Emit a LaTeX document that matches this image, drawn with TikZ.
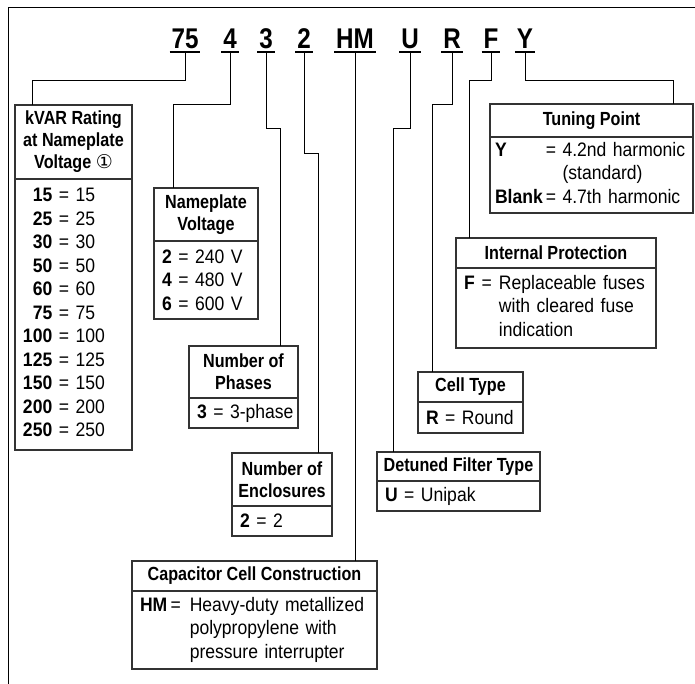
\documentclass[tikz,border=0pt]{standalone}
\usepackage{fontspec}
\setmainfont{Liberation Sans}[FakeStretch=0.9]
\newfontfamily\boldc{Liberation Sans}[FakeStretch=0.85]
\newfontfamily\symf{DejaVu Sans}
\newcommand\cb[1]{\textbf{#1}}
\begin{document}
\begin{tikzpicture}[x=1pt,y=-1pt,
  code/.style={anchor=base, inner xsep=2pt, inner ysep=0pt, outer sep=0pt,
    font=\boldc\bfseries\fontsize{28.5}{30}\selectfont},
  uline/.style={line width=1.6pt},
  conn/.style={line width=1pt},
  boxtitle/.style={draw=black!80, line width=1.1pt, anchor=north west, inner sep=0pt, outer sep=0pt,
    align=center, font=\boldc\bfseries\fontsize{19}{22}\selectfont},
  boxbody/.style={draw=black!80, line width=1.1pt, anchor=north west, inner xsep=8pt, inner ysep=0pt,
    outer sep=0pt, align=left, font=\fontsize{19.5}{23.5}\selectfont}
]
\useasboundingbox (0,0) rectangle (695,683);
\clip (0,0) rectangle (695,683);
% outer frame
\draw[line width=1pt] (8.5,690) -- (8.5,7.5) -- (700,7.5);

% code letters
\node[code] (c75) at (185,48) {75};
\node[code] (c4)  at (230,48) {4};
\node[code] (c3)  at (266,48) {3};
\node[code] (c2)  at (304,48) {2};
\node[code] (cHM) at (355,48) {HM};
\node[code] (cU)  at (410,48) {U};
\node[code] (cR)  at (452,48) {R};
\node[code] (cF)  at (491,48) {F};
\node[code] (cY)  at (525,48) {Y};
\foreach \c in {c75,c4,c3,c2,cHM,cU,cR,cF,cY}
  \draw[uline] ([yshift=-4pt]\c.base west) -- ([yshift=-4pt]\c.base east);

% boxes
\node[boxtitle, minimum width=117pt, minimum height=74pt] (kT) at (15,105)
  {kVAR Rating\\at Nameplate\\Voltage {\mdseries\symf\fontsize{19}{20}\selectfont ①}};
\node[boxbody, text width=101pt, minimum height=271pt] (kB) at (15,179)
  {\begin{tabular}{@{}r@{ = }l@{}}
   \cb{15} & 15\\ \cb{25} & 25\\ \cb{30} & 30\\ \cb{50} & 50\\ \cb{60} & 60\\
   \cb{75} & 75\\ \cb{100} & 100\\ \cb{125} & 125\\ \cb{150} & 150\\
   \cb{200} & 200\\ \cb{250} & 250
   \end{tabular}};

\node[boxtitle, minimum width=104pt, minimum height=53pt] (nvT) at (154,188)
  {Nameplate\\Voltage};
\node[boxbody, text width=88pt, minimum height=78pt] (nvB) at (154,241)
  {\cb{2} = 240 V\\ \cb{4} = 480 V\\ \cb{6} = 600 V};

\node[boxtitle, minimum width=109pt, minimum height=52pt] (phT) at (189,346)
  {Number of\\Phases};
\node[boxbody, text width=93pt, minimum height=30pt] (phB) at (189,398)
  {\mbox{\cb{3} = 3-phase}};

\node[boxtitle, minimum width=100pt, minimum height=53pt] (enT) at (232,453)
  {Number of\\Enclosures};
\node[boxbody, text width=84pt, minimum height=30pt] (enB) at (232,506)
  {\mbox{\cb{2} = 2}};

\node[boxtitle, minimum width=245pt, minimum height=30pt] (cpT) at (132,561)
  {Capacitor Cell Construction};
\node[boxbody, text width=229pt, minimum height=78pt] (cpB) at (132,591)
  {\begin{tabular}{@{}l@{\hspace{9pt}}l@{}}
   \cb{HM}\,= & Heavy-duty metallized\\
    & polypropylene with\\
    & pressure interrupter
   \end{tabular}};

\node[boxtitle, minimum width=163pt, minimum height=29pt] (dtT) at (377,452)
  {Detuned Filter Type};
\node[boxbody, text width=147pt, minimum height=30pt] (dtB) at (377,481)
  {\mbox{\cb{U} = Unipak}};

\node[boxtitle, minimum width=105pt, minimum height=30pt] (ctT) at (418,372)
  {Cell Type};
\node[boxbody, text width=89pt, minimum height=31pt] (ctB) at (418,402)
  {\mbox{\cb{R} = Round}};

\node[boxtitle, minimum width=200pt, minimum height=30pt] (ipT) at (456,238)
  {Internal Protection};
\node[boxbody, text width=184pt, minimum height=80pt] (ipB) at (456,268)
  {\begin{tabular}{@{}l@{\hspace{7pt}}l@{\hspace{7pt}}l@{}}
   \cb{F} & = & Replaceable fuses\\
    & & with cleared fuse\\
    & & indication
   \end{tabular}};

\node[boxtitle, minimum width=203pt, minimum height=33pt] (tpT) at (490,104)
  {Tuning Point};
\node[boxbody, inner xsep=5pt, text width=193pt, minimum height=76pt] (tpB) at (490,137)
  {\begin{tabular}{@{}l@{\hspace{3pt}}l@{}}
   \cb{Y} & = 4.2nd harmonic\\
    & \phantom{= }(standard)\\
   \cb{Blank} & = 4.7th harmonic
   \end{tabular}};

% connectors
\draw[conn] ([yshift=-4pt]c75.base) -- ++(0,28) -| ([xshift=17pt]kT.north west);
\draw[conn] ([yshift=-4pt]c4.base) -- ++(0,52) -| ([xshift=19pt]nvT.north west);
\draw[conn] ([yshift=-4pt]c3.base) -- ++(0,76) -| ([xshift=91pt]phT.north west);
\draw[conn] ([yshift=-4pt]c2.base) -- ++(0,101) -| ([xshift=86pt]enT.north west);
\draw[conn] ([yshift=-4pt]cHM.base) -- (cHM.base |- cpT.north);
\draw[conn] ([yshift=-4pt]cU.base) -- ++(0,76) -| ([xshift=16pt]dtT.north west);
\draw[conn] ([yshift=-4pt]cR.base) -- ++(0,52) -| ([xshift=14pt]ctT.north west);
\draw[conn] ([yshift=-4pt]cF.base) -- ++(0,28) -| ([xshift=13pt]ipT.north west);
\draw[conn] ([yshift=-4pt]cY.base) -- ++(0,28) -| ([xshift=-20pt]tpT.north east);
\end{tikzpicture}
\end{document}
